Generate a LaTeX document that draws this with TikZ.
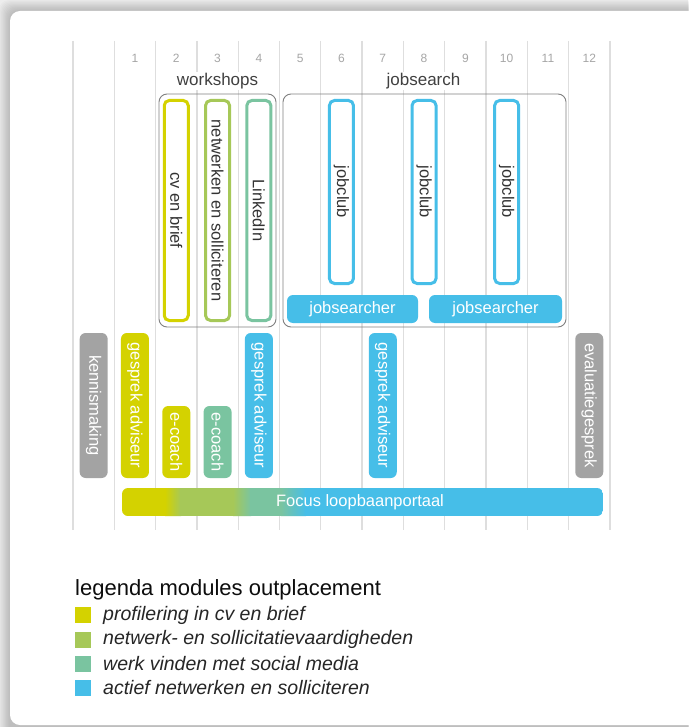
\documentclass[tikz,border=0pt]{standalone}
\usepackage{fontspec}
\setmainfont{Liberation Sans}
\definecolor{cvgeel}{RGB}{212,210,0}
\definecolor{netgroen}{RGB}{166,200,88}
\definecolor{socgroen}{RGB}{122,196,160}
\definecolor{actblauw}{RGB}{70,190,232}
\definecolor{gesprekgrijs}{RGB}{163,163,163}
\definecolor{lijngrijs}{RGB}{222,222,222}

\begin{document}
\begin{tikzpicture}[x=1pt,y=-1pt,
    lijn/.style={lijngrijs, line width=1.3pt},
    nummer/.style={text=black!35, font=\fontsize{12}{14}\selectfont},
    kopje/.style={fill=white, inner sep=1pt, text=black!75, font=\fontsize{17}{19}\selectfont},
    kader/.style={draw=black!50, line width=0.9pt, rounded corners=8pt, inner sep=0pt},
    open/.style={draw=#1, fill=white, line width=3pt, rounded corners=5pt, rotate=-90,
      minimum height=24pt, inner sep=0pt, text=black!80, font=\fontsize{16.5}{18}\selectfont},
    vol/.style={fill=#1, rounded corners=6pt, rotate=-90, minimum height=28pt,
      inner sep=0pt, text=white, font=\fontsize{16.5}{18}\selectfont},
    balk/.style={fill=#1, rounded corners=6pt, minimum height=28pt, inner sep=0pt,
      text=white, font=\fontsize{16.5}{18}\selectfont},
    legvak/.style={fill=#1, minimum size=16pt, inner sep=0pt},
    legtekst/.style={anchor=west, inner sep=0pt, text=black!85, font=\fontsize{19.5}{22}\selectfont\itshape}]
  \useasboundingbox (0,0) rectangle (688,727);
  % achtergrond met schaduw
  \fill[black!7] (0,0) rectangle (688,727);
  \foreach \k in {1,...,10}
    \fill[black, opacity=0.02, rounded corners=10pt] ({10-\k*1.1},{11-\k*1.1}) rectangle (720,760);
  \fill[white, rounded corners=10pt] (10,11) rectangle (720,725);
  % kolommen
  \foreach \i in {0,...,13}
    \draw[lijn] ({73+41.3*\i},41) -- ({73+41.3*\i},530);
  \foreach \i in {1,...,12}
    \node[nummer] (num\i) at ({93.65+41.3*\i},58) {\i};
  % workshops
  \node[kopje] (wslabel) at (217.5,81) {workshops};
  \node[kader, minimum width=117pt, minimum height=233pt] (wsbox) at (217.5,210.5) {};
  \node[open=cvgeel, minimum width=220pt] (cvbrief) at (176.25,210.5) {cv en brief};
  \node[open=netgroen, minimum width=220pt] (netwerk) at (217.55,210.5) {netwerken en solliciteren};
  \node[open=socgroen, minimum width=220pt] (linkedin) at (258.85,210.5) {LinkedIn};
  % jobsearch
  \node[kopje] (jslabel) at (423.5,81) {jobsearch};
  \node[kader, minimum width=283pt, minimum height=233pt] (jsbox) at (424.5,210.5) {};
  \node[open=actblauw, minimum width=183pt] (jc6) at (341.45,192) {jobclub};
  \node[open=actblauw, minimum width=183pt] (jc8) at (424.05,192) {jobclub};
  \node[open=actblauw, minimum width=183pt] (jc10) at (506.65,192) {jobclub};
  \node[balk=actblauw, minimum width=131pt] (js1) at (352.5,309) {jobsearcher};
  \node[balk=actblauw, minimum width=133pt] (js2) at (495.5,309) {jobsearcher};
  % gesprekken en e-coach
  \node[vol=gesprekgrijs, minimum width=145pt] (kennis) at (93.65,405.5) {kennismaking};
  \node[vol=cvgeel, minimum width=145pt] (gesprek1) at (134.95,405.5) {gesprek adviseur};
  \node[vol=cvgeel, minimum width=72pt] (ecoach2) at (176.25,442) {e-coach};
  \node[vol=socgroen, minimum width=72pt] (ecoach3) at (217.55,442) {e-coach};
  \node[vol=actblauw, minimum width=145pt] (gesprek4) at (258.85,405.5) {gesprek adviseur};
  \node[vol=actblauw, minimum width=145pt] (gesprek7) at (382.75,405.5) {gesprek adviseur};
  \node[vol=gesprekgrijs, minimum width=145pt] (evaluatie) at (589.25,405.5) {evaluatiegesprek};
  % loopbaanportaal
  \begin{scope}
    \clip[rounded corners=6pt] (122,488) rectangle (603,516);
    \fill[cvgeel] (122,488) rectangle (166,516);
    \shade[left color=cvgeel, right color=netgroen] (165,488) rectangle (181,516);
    \fill[netgroen] (180,488) rectangle (234,516);
    \shade[left color=netgroen, right color=socgroen] (233,488) rectangle (251,516);
    \fill[socgroen] (250,488) rectangle (282,516);
    \shade[left color=socgroen, right color=actblauw] (281,488) rectangle (306,516);
    \fill[actblauw] (305,488) rectangle (603,516);
  \end{scope}
  \node[text=white, font=\fontsize{16.5}{18}\selectfont] (focus) at (360,502) {Focus loopbaanportaal};
  % legenda
  \node[anchor=west, inner sep=0pt, text=black!95, font=\fontsize{22}{26}\selectfont] (legtitel) at (75,590) {legenda modules outplacement};
  \node[legvak=cvgeel] (vak1) at (83,615) {};
  \node[legvak=netgroen] (vak2) at (83,639.5) {};
  \node[legvak=socgroen] (vak3) at (83,664) {};
  \node[legvak=actblauw] (vak4) at (83,688) {};
  \node[legtekst] (leg1) at (103,615) {profilering in cv en brief};
  \node[legtekst] (leg2) at (103,639.5) {netwerk- en sollicitatievaardigheden};
  \node[legtekst] (leg3) at (103,664) {werk vinden met social media};
  \node[legtekst] (leg4) at (103,688) {actief netwerken en solliciteren};
\end{tikzpicture}
\end{document}
